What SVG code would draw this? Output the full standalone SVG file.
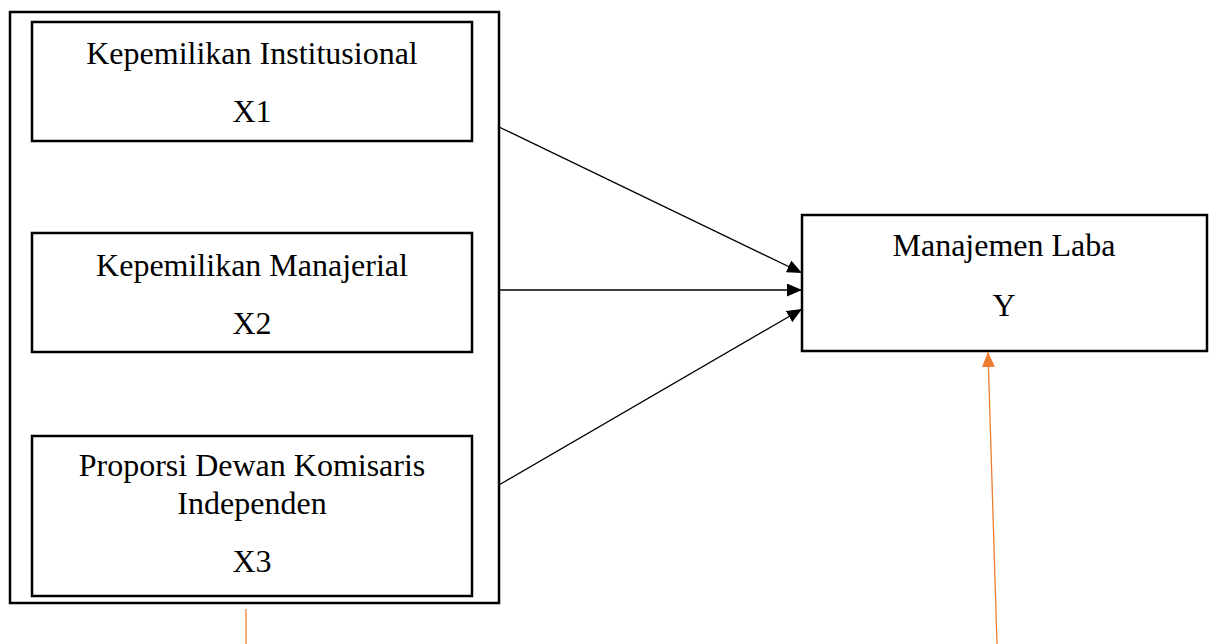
<svg xmlns="http://www.w3.org/2000/svg" width="1214" height="644" viewBox="0 0 1214 644">
<style>
.box{fill:#fff;stroke:#000;stroke-width:2.5}
.t{font-family:"Liberation Serif","Times New Roman",serif;font-size:32px;fill:#000;text-anchor:middle}
.c{stroke:#000;stroke-width:1.3;fill:none}
.o{stroke:#ED7D31;stroke-width:1.3;fill:none}
</style>
<defs>
<marker id="ah" markerWidth="15" markerHeight="13" refX="15" refY="6.5" orient="auto" markerUnits="userSpaceOnUse"><path d="M0,0 L15,6.5 L0,13 Z" fill="#000"/></marker>
<marker id="ao" markerWidth="15" markerHeight="13" refX="15" refY="6.5" orient="auto" markerUnits="userSpaceOnUse"><path d="M0,0 L15,6.5 L0,13 Z" fill="#ED7D31"/></marker>
</defs>
<g id="outer"><rect class="box" x="10" y="12" width="489" height="591"/></g>
<g id="x1"><rect class="box" x="32" y="22" width="440" height="119"/>
<text class="t" x="252" y="64">Kepemilikan Institusional</text>
<text class="t" x="252" y="122">X1</text></g>
<g id="x2"><rect class="box" x="32" y="233" width="440" height="119"/>
<text class="t" x="252" y="276">Kepemilikan Manajerial</text>
<text class="t" x="252" y="334">X2</text></g>
<g id="x3"><rect class="box" x="32" y="436" width="440" height="160"/>
<text class="t" x="252" y="476">Proporsi Dewan Komisaris</text>
<text class="t" x="252" y="514">Independen</text>
<text class="t" x="252" y="572">X3</text></g>
<g id="y"><rect class="box" x="802" y="215" width="405" height="136"/>
<text class="t" x="1004" y="256">Manajemen Laba</text>
<text class="t" x="1004" y="316">Y</text></g>
<g id="connectors">
<line class="c" x1="499" y1="127" x2="802" y2="273" marker-end="url(#ah)"/>
<line class="c" x1="499" y1="290" x2="802" y2="290" marker-end="url(#ah)"/>
<line class="c" x1="499" y1="485" x2="802" y2="309" marker-end="url(#ah)"/>
<line class="o" x1="246" y1="609" x2="246" y2="644"/>
<line class="o" x1="997" y1="644" x2="988" y2="352" marker-end="url(#ao)"/>
</g>
</svg>
